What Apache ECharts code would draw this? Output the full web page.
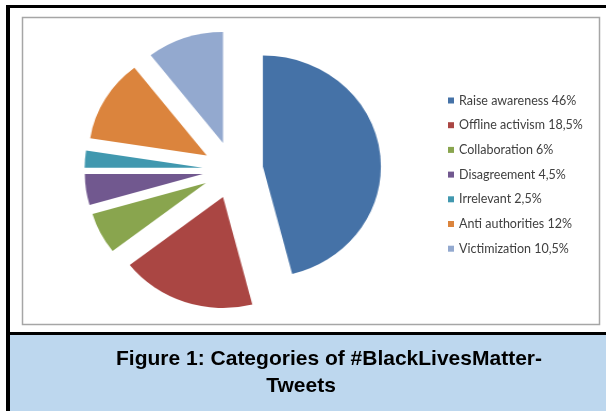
<!DOCTYPE html>
<html>
<head>
<meta charset="utf-8">
<script src="https://cdn.jsdelivr.net/npm/echarts@6/dist/echarts.min.js"></script>
<style>
  html, body { margin: 0; padding: 0; background: #fff; }
  #wrap { position: relative; width: 606px; height: 411px; overflow: hidden; }
  #bg { position: absolute; left: 0; top: 0; width: 606px; height: 411px; }
  /* the Excel pie is slightly wider than tall, so stretch its layer a bit */
  #pie {
    position: absolute; left: 22px; top: 17px; width: 577px; height: 307px;
    transform: scaleX(1.063); transform-origin: 210.8px 153px;
  }
</style>
</head>
<body>
<div id="wrap">
  <div id="bg"></div>
  <div id="pie"></div>
</div>
<script>
const categories = ['Raise awareness', 'Offline activism', 'Collaboration', 'Disagreement',
  'Irrelevant', 'Anti authorities', 'Victimization']
const shares = [46, 18.5, 6, 4.5, 2.5, 12, 10.5]
const colors = ['#4572A7', '#AA4643', '#89A54E', '#71588F', '#4198AF', '#DB843D', '#93A9CF']
const captionLines = ['Figure 1: Categories of #BlackLivesMatter-', 'Tweets']

const shareText = {}
categories.forEach((c, i) => { shareText[c] = String(shares[i]).replace('.', ',') + '%' })

// slices, all pulled out of the centre like the Excel exploded pie
const pieData = categories.map((c, i) => ({
  name: c,
  value: shares[i],
  selected: true,
  itemStyle: { color: colors[i] },
  select: { itemStyle: { color: colors[i] } }
}))

const captionFont = 'bold 21px "Liberation Sans", Arial, sans-serif'

const bg = echarts.init(document.getElementById('bg'), null, { renderer: 'canvas' })
bg.setOption({
  animation: false,
  legend: {
    orient: 'vertical',
    left: 448,
    top: 94,
    padding: 0,
    icon: 'rect',
    itemWidth: 6,
    itemHeight: 6,
    itemGap: 11.7,
    selectedMode: false,
    textStyle: { fontFamily: 'Lato', fontSize: 12.5, lineHeight: 12, color: '#404040' },
    formatter: name => name + ' ' + shareText[name],
    data: categories
  },
  graphic: [
    { type: 'rect', shape: { x: 22.5, y: 17.5, width: 577, height: 307 },
      style: { fill: '#fff', stroke: '#a6a6a6', lineWidth: 1.5 } },
    { type: 'rect', shape: { x: 6, y: 5, width: 600, height: 3 }, style: { fill: '#000' } },
    { type: 'rect', shape: { x: 6, y: 5, width: 4, height: 406 }, style: { fill: '#000' } },
    { type: 'rect', shape: { x: 6, y: 332, width: 600, height: 3 }, style: { fill: '#000' } },
    { type: 'rect', shape: { x: 10, y: 335, width: 596, height: 76 }, style: { fill: '#BDD7EE' } },
    { type: 'text', x: 329, y: 359.5,
      style: { text: captionLines[0], fill: '#000', font: captionFont,
        textAlign: 'center', textVerticalAlign: 'middle' } },
    { type: 'text', x: 301, y: 386.5,
      style: { text: captionLines[1], fill: '#000', font: captionFont,
        textAlign: 'center', textVerticalAlign: 'middle' } }
  ],
  series: [{
    // only feeds the legend, the visible pie is drawn in the other layer
    type: 'pie',
    radius: 0,
    center: [-50, -50],
    silent: true,
    label: { show: false },
    data: categories.map((c, i) => ({ name: c, value: shares[i], itemStyle: { color: colors[i] } }))
  }]
})

const pie = echarts.init(document.getElementById('pie'), null, { renderer: 'canvas' })
pie.setOption({
  animation: false,
  series: [{
    type: 'pie',
    center: [210.8, 153],
    radius: 111,
    startAngle: 90,
    clockwise: true,
    selectedMode: 'multiple',
    selectedOffset: 28.5,
    avoidLabelOverlap: false,
    silent: true,
    label: { show: false },
    labelLine: { show: false },
    emphasis: { disabled: true },
    data: pieData
  }]
})
</script>
</body>
</html>
